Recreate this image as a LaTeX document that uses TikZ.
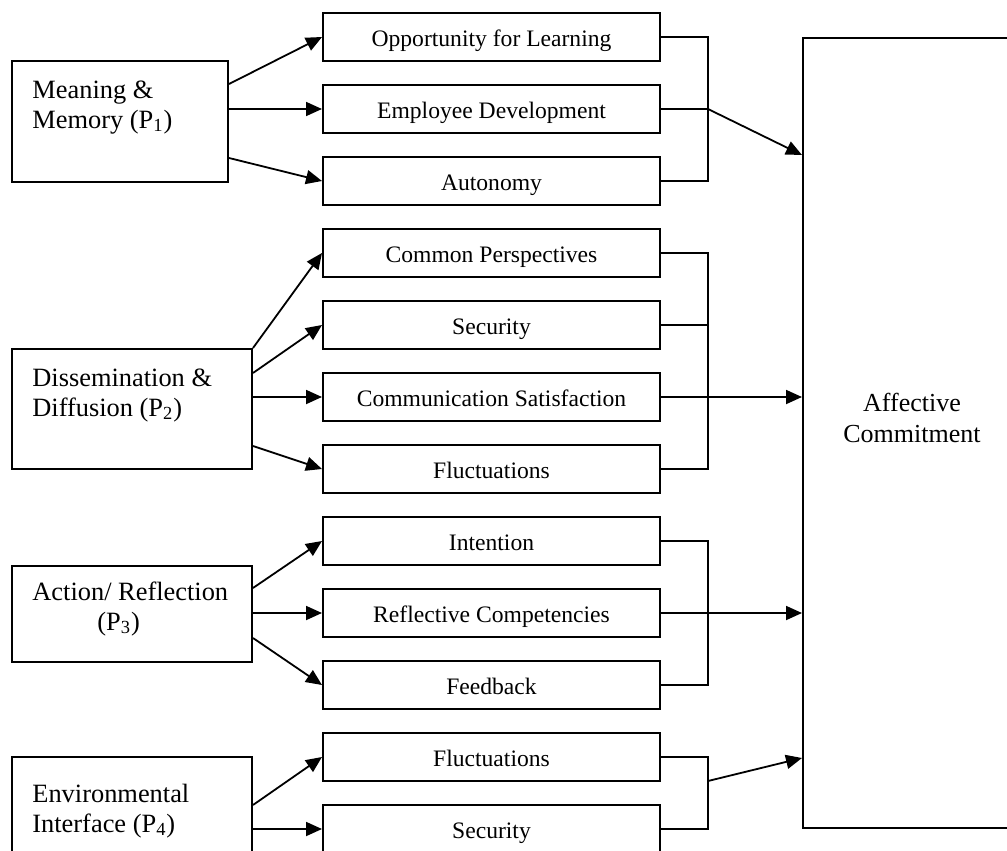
\documentclass[tikz,border=0pt]{standalone}
\usepackage{fontspec}
\setmainfont{Liberation Serif}
\usetikzlibrary{calc}
\usetikzlibrary{arrows.meta}
\tikzset{
    midbox/.style={
        draw,
        line width=1pt,
        minimum width=168.5pt,
        minimum height=24pt,
        inner sep=0pt,
        text height=11.5pt,
        text depth=2pt,
        font=\fontsize{11.8}{14}\selectfont
    },
    leftbox/.style={
        draw,
        line width=1pt,
        inner sep=0pt
    },
    lefttext/.style={
        anchor=base west,
        inner sep=0pt,
        align=left,
        font=\fontsize{13.2}{15}\selectfont
    },
    % black arrow with a filled triangle tip
    linkarrow/.style={
        line width=0.9pt,
        black,
        -{Triangle[length=8pt, width=7pt]}
    },
    plainline/.style={
        line width=0.9pt,
        black
    }
}

\begin{document}
\begin{tikzpicture}[x=0.5pt,y=-0.5pt]
   \useasboundingbox (0,0) rectangle (1007,851);
   \clip (0,0) rectangle (1007,851);
   % left boxes
    \node[leftbox, minimum width=108pt, minimum height=60.5pt] (mm) at (120,121.5) {};
    \node[leftbox, minimum width=120pt, minimum height=60pt] (dd) at (132,409) {};
    \node[leftbox, minimum width=120pt, minimum height=48pt] (ar) at (132,614) {};
    \node[leftbox, minimum width=120pt, minimum height=61.5pt] (ei) at (132,818.5) {};
    \node[lefttext] (mmtxt) at (32,128) {Meaning \&\\Memory (P\textsubscript{1})};
    \node[lefttext] (ddtxt) at (32,416) {Dissemination \&\\Diffusion (P\textsubscript{2})};
    \node[lefttext] (artxt) at (32,630) {Action/ Reflection\\\hspace*{32.5pt}(P\textsubscript{3})};
    \node[lefttext] (eitxt) at (32,832) {Environmental\\Interface (P\textsubscript{4})};
   % middle boxes
    \node[midbox] (opp) at (491.5,37) {Opportunity for Learning};
    \node[midbox] (emp) at (491.5,109) {Employee Development};
    \node[midbox] (aut) at (491.5,181) {Autonomy};
    \node[midbox] (cp) at (491.5,253) {Common Perspectives};
    \node[midbox] (sec) at (491.5,325) {Security};
    \node[midbox] (cs) at (491.5,397) {Communication Satisfaction};
    \node[midbox] (fl) at (491.5,469) {Fluctuations};
    \node[midbox] (int) at (491.5,541) {Intention};
    \node[midbox] (ref) at (491.5,613) {Reflective Competencies};
    \node[midbox] (fb) at (491.5,685) {Feedback};
    \node[midbox] (fltwo) at (491.5,757) {Fluctuations};
    \node[midbox] (sectwo) at (491.5,829) {Security};
   % right box
    \node[leftbox, minimum width=113.5pt, minimum height=395pt] (ac) at (916.5,433) {};
    \node[anchor=base, inner sep=0pt, align=center, font=\fontsize{13}{15.5}\selectfont] (actxt) at (912,442) {Affective\\Commitment};
    \coordinate (brk) at (708,0);
   % arrows from the left boxes
     \draw[linkarrow] (mm.east |- 0,84) -- (opp.west);
     \draw[linkarrow] (mm.east |- emp.west) -- (emp.west);
     \draw[linkarrow] (mm.east |- 0,158) -- (aut.west);
     \draw[linkarrow] (dd.north east) -- (cp.west);
     \draw[linkarrow] (dd.east |- 0,373) -- (sec.west);
     \draw[linkarrow] (dd.east |- cs.west) -- (cs.west);
     \draw[linkarrow] (dd.east |- 0,446) -- (fl.west);
     \draw[linkarrow] (ar.east |- 0,588) -- (int.west);
     \draw[linkarrow] (ar.east |- ref.west) -- (ref.west);
     \draw[linkarrow] (ar.east |- 0,638) -- (fb.west);
     \draw[linkarrow] (ei.east |- 0,805) -- (fltwo.west);
     \draw[linkarrow] (ei.east |- sectwo.west) -- (sectwo.west);
   % brackets and arrows into the right box
     \draw[plainline] (opp.east) -- (opp.east -| brk) -- (aut.east -| brk) -- (aut.east);
     \draw[plainline] (emp.east) -- (emp.east -| brk);
     \draw[linkarrow] (emp.east -| brk) -- (ac.west |- 0,155);
     \draw[plainline] (cp.east) -- (cp.east -| brk) -- (fl.east -| brk) -- (fl.east);
     \draw[plainline] (sec.east) -- (sec.east -| brk);
     \draw[linkarrow] (cs.east) -- (ac.west |- cs.east);
     \draw[plainline] (int.east) -- (int.east -| brk) -- (fb.east -| brk) -- (fb.east);
     \draw[linkarrow] (ref.east) -- (ac.west |- ref.east);
     \draw[plainline] (fltwo.east) -- (fltwo.east -| brk) -- (sectwo.east -| brk) -- (sectwo.east);
     \draw[linkarrow] (brk |- 0,781) -- (ac.west |- 0,758);
\end{tikzpicture}
\end{document}
